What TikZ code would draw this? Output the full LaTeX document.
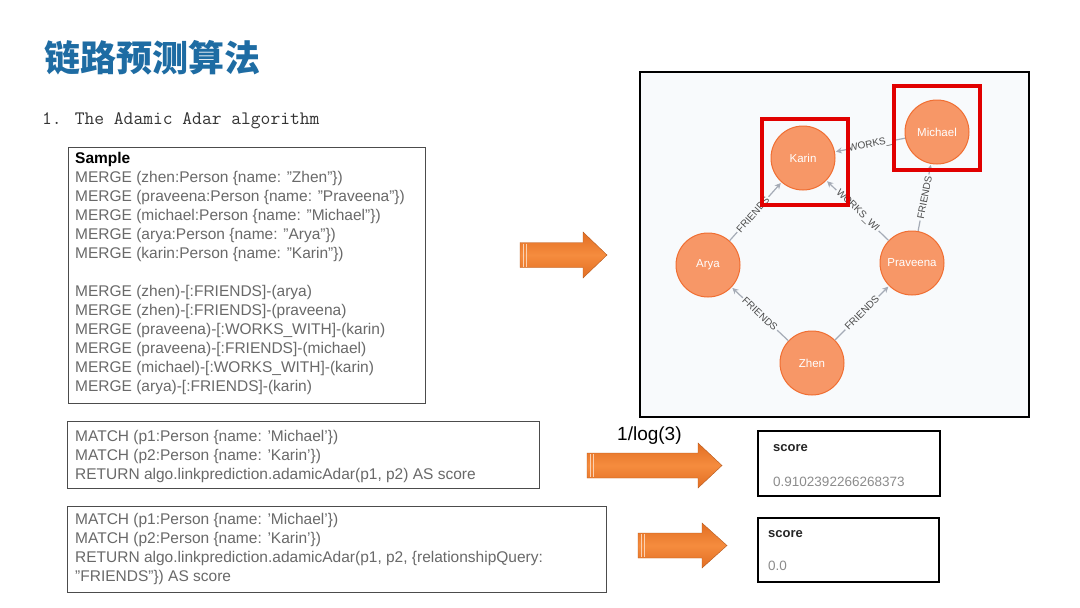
\documentclass[tikz,border=0pt]{standalone}
\usepackage{fontspec}
\setmainfont{Liberation Sans}
\newfontfamily\cjkfont{Noto Sans CJK SC}
\usetikzlibrary{arrows.meta}
\definecolor{titleblue}{RGB}{30,108,163}
\definecolor{codegray}{RGB}{105,105,105}
\definecolor{orL}{RGB}{245,140,62}
\definecolor{orD}{RGB}{226,110,35}
\definecolor{nodefill}{RGB}{247,151,103}
\definecolor{nodeline}{RGB}{240,110,50}
\definecolor{edgegray}{RGB}{165,171,182}
\definecolor{labgray}{RGB}{75,75,75}
\definecolor{graphbg}{RGB}{248,250,252}
\definecolor{boxred}{RGB}{225,0,0}
\newcommand\orarrow[6]{%
  \shade[top color=orD, bottom color=orD, middle color=orL, draw=orD!80!black, line width=0.4pt]
    (#1,#4-#5) -- (#2,#4-#5) -- (#2,#4-#6) -- (#3,#4) -- (#2,#4+#6) -- (#2,#4+#5) -- (#1,#4+#5) -- cycle;
  \draw[white!60!orL, line width=1pt] (#1+3,#4-#5+1) -- (#1+3,#4+#5-1);
  \draw[white!60!orL, line width=0.8pt] (#1+6,#4-#5+1) -- (#1+6,#4+#5-1);
}
\tikzset{
  codetext/.style={anchor=north west, inner sep=0pt, align=left, text=codegray,
    font=\fontsize{15.5}{19}\selectfont},
  codebox/.style={draw=black!70, line width=0.8pt},
  scorebox/.style={draw=black, line width=2pt},
  scorehead/.style={anchor=base west, inner sep=0pt, text=black!85, font=\bfseries\fontsize{13}{15}\selectfont},
  scoreval/.style={anchor=base west, inner sep=0pt, text=black!45, font=\fontsize{13.5}{15}\selectfont},
  pnode/.style={circle, minimum size=64pt, inner sep=0pt, fill=nodefill, draw=nodeline, line width=1pt,
    text=white, font=\fontsize{11.5}{13}\selectfont},
  edge/.style={draw=edgegray, line width=1.2pt, -{Stealth[length=6pt,width=6pt]}, shorten >=1pt},
  elabel/.style={midway, sloped, fill=graphbg, inner sep=1.5pt, text=labgray, font=\fontsize{10}{12}\selectfont},
  redbox/.style={draw=boxred, line width=4pt},
}
\begin{document}
\begin{tikzpicture}[x=1pt,y=-1pt]
\useasboundingbox (0,0) rectangle (1080,608);
\fill[white] (0,0) rectangle (1080,608);

% title
\node[anchor=west, inner sep=0pt, text=titleblue, font=\cjkfont\bfseries\fontsize{36}{40}\selectfont] (title) at (44,58) {链路预测算法};
\node[anchor=base west, inner sep=0pt, text=black!80, font=\ttfamily\fontsize{19}{22}\selectfont] (subtitle) at (42,124) {1. The Adamic Adar algorithm};

% sample box
\draw[codebox] (68,147) rectangle (425,403);
\node[codetext] (sample) at (75,150.2) {\strut\textbf{\textcolor{black}{Sample}}\\
MERGE (zhen:Person \{name: "Zhen"\})\\
MERGE (praveena:Person \{name: "Praveena"\})\\
MERGE (michael:Person \{name: "Michael"\})\\
MERGE (arya:Person \{name: "Arya"\})\\
MERGE (karin:Person \{name: "Karin"\})\\
\mbox{}\\
MERGE (zhen)-[:FRIENDS]-(arya)\\
MERGE (zhen)-[:FRIENDS]-(praveena)\\
MERGE (praveena)-[:WORKS\_WITH]-(karin)\\
MERGE (praveena)-[:FRIENDS]-(michael)\\
MERGE (michael)-[:WORKS\_WITH]-(karin)\\
MERGE (arya)-[:FRIENDS]-(karin)};

% query boxes
\draw[codebox] (67,421) rectangle (539,488);
\node[codetext] (q1) at (75,428.2) {\strut MATCH (p1:Person \{name: 'Michael'\})\\
MATCH (p2:Person \{name: 'Karin'\})\\
RETURN algo.linkprediction.adamicAdar(p1, p2) AS score};

\draw[codebox] (67,506) rectangle (606,592);
\node[codetext] (q2) at (75,511.2) {\strut MATCH (p1:Person \{name: 'Michael'\})\\
MATCH (p2:Person \{name: 'Karin'\})\\
RETURN algo.linkprediction.adamicAdar(p1, p2, \{relationshipQuery:\\
"FRIENDS"\}) AS score};

% arrows
\orarrow{520}{583}{607}{255}{12.5}{23}
\orarrow{587}{698}{722}{465.5}{12.5}{22.5}
\orarrow{638}{702}{727}{545.5}{12.5}{22.5}

\node[anchor=base west, inner sep=0pt, font=\fontsize{19}{22}\selectfont] (loglabel) at (617,440) {1/log(3)};

% score boxes
\draw[scorebox] (758,431) rectangle (940,496);
\node[scorehead] (s1h) at (773,451.5) {score};
\node[scoreval] (s1v) at (773,486) {0.9102392266268373};
\draw[scorebox] (758,518) rectangle (939,582);
\node[scorehead] (s2h) at (768,537.5) {score};
\node[scoreval] (s2v) at (768,570) {0.0};

% graph panel
\draw[fill=graphbg, draw=black, line width=2pt] (640,72) rectangle (1029,417);
\node[pnode] (karin) at (803,158) {Karin};
\node[pnode] (michael) at (937,132) {Michael};
\node[pnode] (arya) at (708,265) {Arya};
\node[pnode] (praveena) at (912,263) {Praveena};
\node[pnode] (zhen) at (812,363) {Zhen};

\draw[edge] (zhen) -- node[elabel] {FRIENDS} (arya);
\draw[edge] (zhen) -- node[elabel] {FRIENDS} (praveena);
\draw[edge] (praveena) -- node[elabel] {WORKS\_WI} (karin);
\draw[edge] (praveena) -- node[elabel] {FRIENDS} (michael);
\draw[edge] (michael) -- node[elabel] {WORKS\_} (karin);
\draw[edge] (arya) -- node[elabel, pos=0.45] {FRIENDS} (karin);

\draw[redbox] (762,119) rectangle (848,205);
\draw[redbox] (894,86) rectangle (980,170);
\end{tikzpicture}
\end{document}
